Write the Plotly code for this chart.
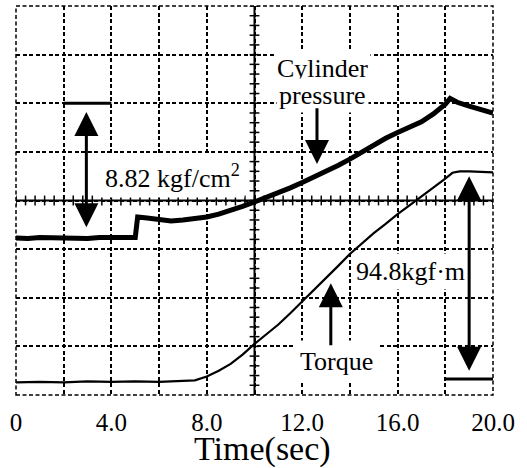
import numpy as np
import plotly.graph_objects as go

# ---- data (y in screen divisions, 0..8) ----
time_p = [0, 0.5, 1, 1.5, 2, 2.5, 3, 3.5, 4, 4.5, 5.0, 5.05, 5.1, 5.5, 6, 6.5, 7, 7.5, 8, 8.5,
          9, 9.5, 10, 10.5, 11, 11.5, 12, 12.5, 13, 13.5, 14, 14.5, 15, 15.5, 16, 16.5,
          17, 17.5, 18, 18.2, 18.5, 19, 19.5, 20]
pressure = [3.23, 3.22, 3.24, 3.23, 3.24, 3.23, 3.22, 3.24, 3.23, 3.24, 3.24, 3.40, 3.66, 3.64,
            3.60, 3.58, 3.60, 3.62, 3.66, 3.72, 3.79, 3.88, 3.97, 4.06, 4.16, 4.26, 4.37, 4.48,
            4.60, 4.72, 4.85, 5.00, 5.15, 5.28, 5.40, 5.50, 5.62, 5.78, 5.98, 6.10, 6.02, 5.94,
            5.88, 5.80]

time_t = [0, 1, 2, 3, 4, 5, 6, 7, 7.5, 8, 8.5, 9, 9.5, 10, 10.5, 11, 11.5, 12, 12.5, 13, 13.5,
          14, 14.5, 15, 15.5, 16, 16.5, 17, 17.5, 18, 18.3, 18.6, 19, 19.5, 20]
torque = [0.26, 0.27, 0.26, 0.28, 0.27, 0.28, 0.27, 0.28, 0.30, 0.38, 0.50, 0.64, 0.83, 1.05,
          1.25, 1.45, 1.68, 1.92, 2.15, 2.40, 2.65, 2.90, 3.12, 3.33, 3.52, 3.72, 3.90, 4.08,
          4.26, 4.45, 4.57, 4.60, 4.60, 4.59, 4.58]

grid_x = [0, 2, 4, 6, 8, 10, 12, 14, 16, 18, 20]
tick_text = ["0", "", "4.0", "", "8.0", "", "12.0", "", "16.0", "", "20.0"]
grid_y = [0, 1, 2, 3, 4, 5, 6, 7, 8]

FONT = "'Liberation Serif', 'Times New Roman', 'DejaVu Serif', serif"
DASH = "4px,2.5px"

fig = go.Figure()

# minor ticks on the centre cross-hair axes
minor_x = np.arange(0, 20.001, 0.4)
minor_y = np.arange(0, 8.001, 0.2)
fig.add_trace(go.Scatter(x=minor_x, y=[4] * len(minor_x), mode="markers",
                         marker=dict(symbol="line-ns", size=7, line=dict(width=1.5, color="black")),
                         hoverinfo="skip", showlegend=False))
fig.add_trace(go.Scatter(x=[10] * len(minor_y), y=minor_y, mode="markers",
                         marker=dict(symbol="line-ew", size=7, line=dict(width=1.5, color="black")),
                         hoverinfo="skip", showlegend=False))

fig.add_trace(go.Scatter(x=time_p, y=pressure, mode="lines", name="Cylinder pressure",
                         line=dict(color="black", width=5), showlegend=False))
fig.add_trace(go.Scatter(x=time_t, y=torque, mode="lines", name="Torque",
                         line=dict(color="black", width=2.2), showlegend=False))

# centre axes and frame
fig.add_shape(type="line", x0=10, x1=10, y0=0, y1=8, line=dict(color="black", width=2), layer="below")
fig.add_shape(type="line", x0=0, x1=20, y0=4, y1=4, line=dict(color="black", width=2), layer="below")
fig.add_shape(type="rect", xref="paper", yref="paper", x0=0, x1=1, y0=0, y1=1,
              line=dict(color="black", width=1.5, dash=DASH), layer="below")
# reference bars
fig.add_shape(type="line", x0=2, x1=4, y0=6, y1=6, line=dict(color="black", width=3))
fig.add_shape(type="line", x0=18, x1=20, y0=0.33, y1=0.33, line=dict(color="black", width=3))

txt = dict(showarrow=False, bgcolor="white", font=dict(family=FONT, size=26, color="black"))
fig.add_annotation(x=6.56, y=4.49, text="8.82 kgf/cm<sup>2</sup>", borderpad=4, **txt)
fig.add_annotation(x=12.83, y=6.72, text="Cylinder", borderpad=2, **txt)
fig.add_annotation(x=12.83, y=6.16, text="pressure", borderpad=2, **txt)
fig.add_annotation(x=16.52, y=2.53, text="94.8kgf·m", borderpad=3, **txt)
fig.add_annotation(x=13.42, y=0.68, text="Torque", borderpad=6, **txt)

# axis title
fig.add_annotation(xref="paper", yref="paper", x=0.516, y=-0.14, yanchor="middle",
                   text="Time(sec)", showarrow=False,
                   font=dict(family=FONT, size=34, color="black"))

arr = dict(text="", showarrow=True, axref="x", ayref="y", arrowhead=2, arrowwidth=3,
           arrowsize=1.6, arrowcolor="black")
fig.add_annotation(x=2.95, y=5.82, ax=2.95, ay=3.42, arrowside="end+start",
                   startarrowhead=2, startarrowsize=1.6, **arr)
fig.add_annotation(x=19, y=4.5, ax=19, ay=0.47, arrowside="end+start",
                   startarrowhead=2, startarrowsize=1.6, **arr)
fig.add_annotation(x=12.62, y=4.75, ax=12.62, ay=5.93, **arr)
fig.add_annotation(x=13.2, y=2.30, ax=13.2, ay=0.99, **arr)

fig.update_xaxes(range=[0, 20], tickvals=grid_x, ticktext=tick_text, showgrid=True,
                 gridcolor="black", griddash=DASH, gridwidth=1.5, zeroline=False,
                 showline=False, ticks="outside", ticklen=5, tickcolor="rgba(0,0,0,0)",
                 tickfont=dict(family=FONT, size=25, color="black"))
fig.update_yaxes(range=[0, 8], tickvals=grid_y, showticklabels=False, showgrid=True,
                 gridcolor="black", griddash=DASH, gridwidth=1.5, zeroline=False,
                 showline=False, ticks="")

fig.update_layout(width=527, height=468, margin=dict(l=16, r=34, t=6, b=73, autoexpand=False),
                  paper_bgcolor="white", plot_bgcolor="white", showlegend=False)

fig.write_html("out.html", config={"displayModeBar": False},
               post_script="document.body.style.margin='0';")
